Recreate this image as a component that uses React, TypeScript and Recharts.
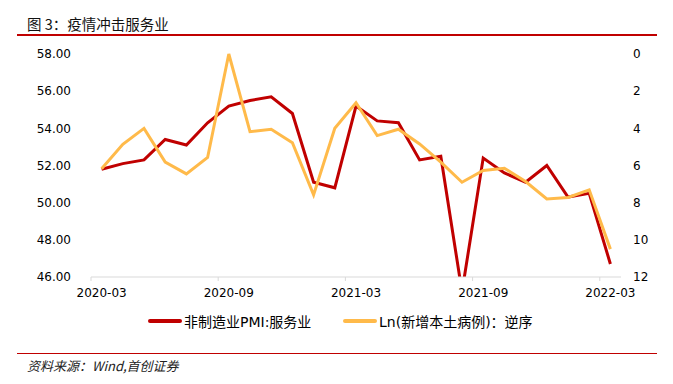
import React from 'react';
import { LineChart, Line, XAxis, YAxis } from 'recharts';

const months = [
  '2020-03', '2020-04', '2020-05', '2020-06', '2020-07', '2020-08', '2020-09',
  '2020-10', '2020-11', '2020-12', '2021-01', '2021-02', '2021-03', '2021-04',
  '2021-05', '2021-06', '2021-07', '2021-08', '2021-09', '2021-10', '2021-11',
  '2021-12', '2022-01', '2022-02', '2022-03',
];

// 非制造业PMI:服务业
const pmiServices = [
  51.8, 52.1, 52.3, 53.4, 53.1, 54.3, 55.2, 55.5, 55.7, 54.8, 51.1, 50.8, 55.2,
  54.4, 54.3, 52.3, 52.5, 45.2, 52.4, 51.6, 51.1, 52.0, 50.3, 50.5, 46.7,
];

// Ln(新增本土病例)，右轴逆序
const lnLocalCases = [
  6.18, 4.86, 4.0, 5.82, 6.45, 5.57, 0.0, 4.18, 4.05, 4.77, 7.58, 4.0, 2.62,
  4.39, 4.05, 4.84, 5.82, 6.9, 6.27, 6.15, 6.86, 7.8, 7.72, 7.31, 10.5,
];

const leftTicks = [46, 48, 50, 52, 54, 56, 58];
const rightTicks = [0, 2, 4, 6, 8, 10, 12];

const seriesNames = ['非制造业PMI:服务业', 'Ln(新增本土病例)：逆序'];
const seriesColors = ['#C00000', '#FFBA4A'];

const data = months.map((m, i) => ({
  month: m,
  pmi: pmiServices[i],
  ln: lnLocalCases[i],
}));

// layout
const W = 673;
const PLOT_LEFT = 91;
const PLOT_RIGHT = 621;
const HALF = (PLOT_RIGHT - PLOT_LEFT) / months.length / 2;
const X_TICK_MARGIN = 11;

const latin = '"DejaVu Sans", "Noto Sans CJK SC", sans-serif';
const cjk = '"Noto Sans CJK SC", sans-serif';
const tickStyle = { fontFamily: latin, fontSize: 12, fill: '#000' };

function MonthTick(props: any) {
  const { x, y, payload } = props;
  const axisY = y - X_TICK_MARGIN;
  return (
    <g>
      <line x1={x - HALF} x2={x - HALF} y1={axisY} y2={axisY + 4} stroke="#d9d9d9" />
      <text x={x} y={y} dy="0.71em" textAnchor="middle" {...tickStyle}>
        {payload.value}
      </text>
    </g>
  );
}

export default function App() {
  return (
    <div style={{ position: 'absolute', left: 0, top: 0, width: W, height: 384, background: '#fff', overflow: 'hidden' }}>
      <div style={{ position: 'absolute', left: 27, top: 14, fontFamily: cjk, fontSize: 14.5, lineHeight: '20px', color: '#111' }}>
        图 3：疫情冲击服务业
      </div>
      <div style={{ position: 'absolute', left: 17, top: 34, width: 640, height: 1.5, background: '#C00000' }} />

      <div style={{ position: 'absolute', left: 0, top: 0 }}>
        <LineChart width={W} height={305} data={data} margin={{ top: 54, right: 0, left: 0, bottom: 0 }}>
          <XAxis
            dataKey="month"
            interval={5}
            height={28}
            tick={<MonthTick />}
            tickLine={false}
            tickSize={0}
            tickMargin={X_TICK_MARGIN}
            axisLine={{ stroke: '#d9d9d9' }}
            padding={{ left: HALF, right: HALF }}
          />
          <YAxis
            yAxisId="left"
            domain={[46, 58]}
            ticks={leftTicks}
            allowDataOverflow
            width={PLOT_LEFT}
            axisLine={false}
            tickLine={false}
            tickSize={0}
            tickMargin={20}
            tick={tickStyle}
            tickFormatter={(v: number) => v.toFixed(2)}
          />
          <YAxis
            yAxisId="right"
            orientation="right"
            reversed
            domain={[0, 12]}
            ticks={rightTicks}
            width={W - PLOT_RIGHT}
            axisLine={false}
            tickLine={false}
            tickSize={0}
            tickMargin={12}
            tick={tickStyle}
          />
          <Line
            yAxisId="left"
            dataKey="pmi"
            type="linear"
            stroke={seriesColors[0]}
            strokeWidth={3}
            dot={false}
            isAnimationActive={false}
          />
          <Line
            yAxisId="right"
            dataKey="ln"
            type="linear"
            stroke={seriesColors[1]}
            strokeWidth={3}
            dot={false}
            isAnimationActive={false}
          />
        </LineChart>
      </div>

      {seriesNames.map((name, i) => (
        <div
          key={name}
          style={{
            position: 'absolute',
            left: i === 0 ? 148 : 343,
            top: 311,
            height: 20,
            display: 'flex',
            alignItems: 'center',
            fontFamily: latin,
            fontSize: 14,
            color: '#000',
            whiteSpace: 'nowrap',
          }}
        >
          <span style={{ display: 'inline-block', width: 34, height: 4, borderRadius: 2, background: seriesColors[i], marginRight: 2 }} />
          {name}
        </div>
      ))}

      <div style={{ position: 'absolute', left: 17, top: 352.5, width: 640, height: 1.5, background: '#C00000' }} />
      <div style={{ position: 'absolute', left: 27, top: 356, fontFamily: cjk, fontSize: 13, lineHeight: '20px', fontStyle: 'italic', color: '#222' }}>
        资料来源：Wind,首创证券
      </div>
    </div>
  );
}
